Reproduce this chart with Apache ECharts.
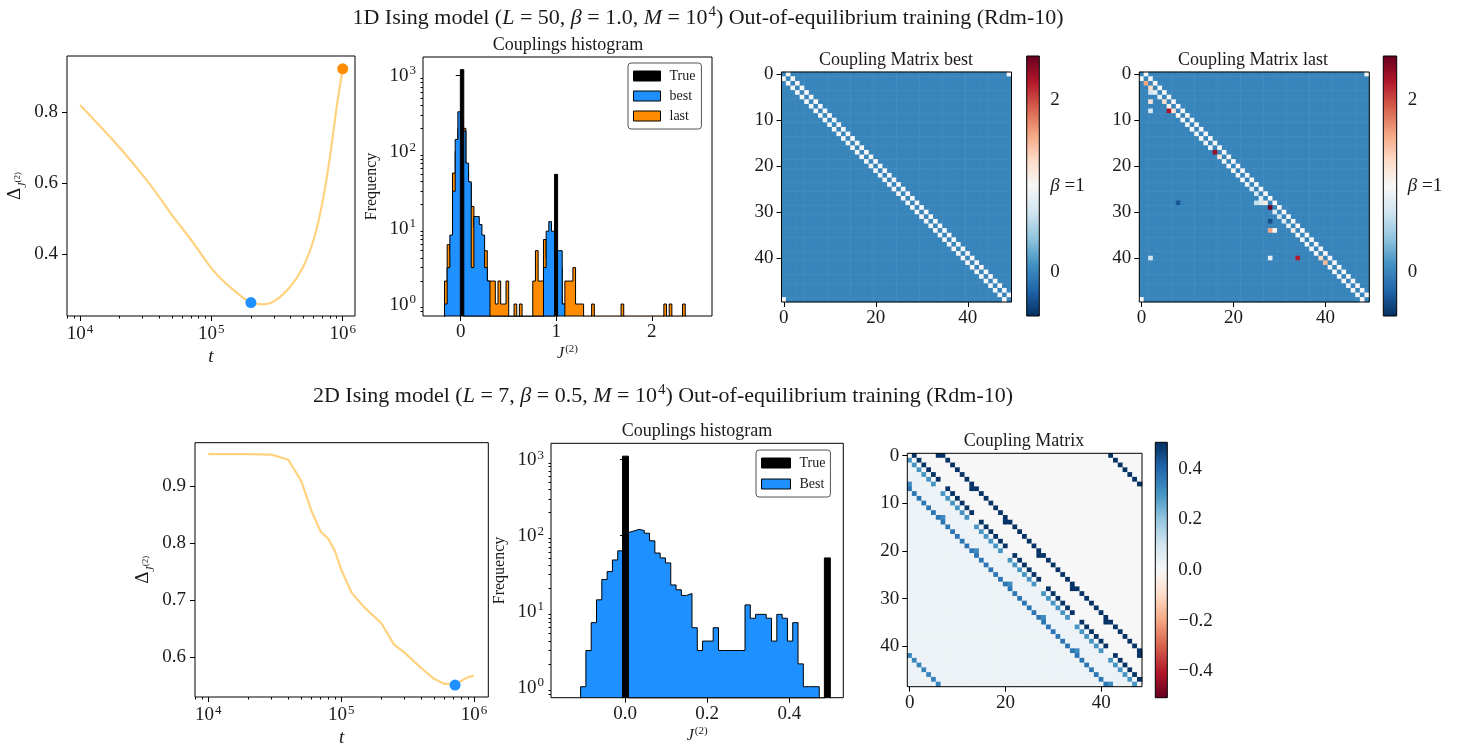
<!DOCTYPE html>
<html>
<head>
<meta charset="utf-8">
<title>Ising model out-of-equilibrium training</title>
<script src="https://cdn.jsdelivr.net/npm/echarts@6/dist/echarts.min.js"></script>
<style>
  html, body { margin: 0; padding: 0; background: #fff; }
  #chart { width: 1470px; height: 748px; }
</style>
</head>
<body>
<div id="chart"></div>
<script>
// ---------- data ----------

// 1D: reconstruction error vs training time
const t1D = [1e4, 1.5e4, 2e4, 3e4, 4e4, 5e4, 7e4, 1e5, 1.2e5, 1.5e5, 2e5, 2.5e5, 3e5, 4e5, 5e5, 6e5, 7e5, 8e5, 9e5, 1e6];
const delta1D = [0.820, 0.751, 0.700, 0.622, 0.561, 0.510, 0.440, 0.360, 0.328, 0.296, 0.263, 0.258, 0.266, 0.308, 0.364, 0.440, 0.544, 0.674, 0.815, 0.922];
const best1DPoint = [2e5, 0.263];
const last1DPoint = [1e6, 0.922];

// 2D: reconstruction error vs training time
const t2D = [1e4, 2e4, 3e4, 4e4, 5e4, 6e4, 7e4, 8e4, 9e4, 1e5, 1.2e5, 1.5e5, 2e5, 2.5e5, 3e5, 4e5, 5e5, 6e5, 7e5, 8e5, 9e5, 1e6];
const delta2D = [0.957, 0.957, 0.956, 0.947, 0.910, 0.856, 0.821, 0.808, 0.786, 0.754, 0.713, 0.687, 0.660, 0.622, 0.608, 0.581, 0.562, 0.553, 0.553, 0.558, 0.565, 0.567];
const best2DPoint = [7.2e5, 0.551];

// 1D couplings histogram (bins of equal width)
const binStart1D = -0.17;
const binWidth1D = 0.028;
const histBest1D = [1, 3, 8, 30, 143, 330, 260, 185, 70, 40, 3, 14, 14, 11, 8, 3, 2,
  0, 0, 0, 0, 0, 0, 0, 0, 0, 0, 0, 0, 0, 0, 0, 0, 0, 0, 0, 0,
  3, 9, 12, 9, 9, 5, 5, 1];
const histLast1D = [2, 6, 5, 52, 100, 200, 150, 200, 55, 38,
  19, 10, 8, 6, 5, 5, 2, 2, 2, 1,
  2, 1, 1, 2, 0, 0, 1, 0, 1, 0,
  0, 0, 0, 2, 5, 2, 2, 7, 4, 6,
  5, 4, 3, 3, 1, 2, 2, 2, 3, 1,
  1, 1, 0, 0, 0, 1, 0, 0, 0, 0,
  0, 0, 0, 0, 0, 0, 1, 0, 0, 0,
  0, 0, 0, 0, 0, 0, 0, 0, 0, 0,
  0, 0, 1, 0, 1, 0, 0, 0, 0, 1];
const trueEdges1D = [-0.004, 0.032, 0.982, 1.014];
const trueCounts1D = [1175, 0, 50];

// 2D couplings histogram
const binStart2D = -0.108;
const binWidth2D = 0.0129;
const histBest2D = [1, 3, 7, 14, 26, 33, 47, 62, 108, 113, 119, 115, 106, 84, 58, 50, 43,
  22, 19, 16, 17, 6, 3, 4, 4, 6, 3, 3, 3, 3, 3, 12, 8, 9, 9, 8, 4, 9, 8, 4, 7, 2, 1, 1, 1];
const trueEdges2D = [-0.006, 0.0085, 0.485, 0.4995];
const trueCounts2D = [1100, 0, 50];

// 1D coupling matrices: upper triangle = true couplings, lower = inferred
const L1D = 50;
const beta1D = 1.0;
const lowerBg1D = 0.0;
const bestSub1D = [0.97, 0.97, 0.97, 0.97, 0.97, 0.97, 0.97, 0.97, 0.97, 0.97,
  0.97, 0.97, 0.97, 0.97, 0.97, 0.97, 0.97, 0.97, 0.97, 0.97,
  0.97, 0.97, 0.97, 0.97, 0.97, 0.97, 0.97, 0.97, 0.97, 0.97,
  0.97, 0.97, 0.97, 0.97, 0.97, 0.97, 0.97, 0.97, 0.97, 0.97,
  0.97, 0.97, 0.97, 0.97, 0.97, 0.97, 0.97, 0.97, 0.97];
const bestExtra1D = [[49, 0, 1.0]];
const lastSub1D = [1.0, 1.6, 1.3, 0.85, 0.9, 1.25, 1.05, 1.2, 1.0, 1.0,
  0.95, 1.0, 0.95, 1.0, 0.95, 0.95, 2.3, 1.2, 0.95, 1.0,
  1.0, 0.95, 1.0, 0.95, 0.8, 0.75, 0.85, 1.1, 2.6, 0.8,
  0.75, 0.8, 0.9, 1.1, 1.0, 0.95, 1.0, 0.95, 1.0, 1.3,
  1.5, 0.95, 1.0, 0.95, 1.0, 0.95, 1.0, 0.95, 1.0];
const lastExtra1D = [[4, 2, 0.7], [6, 2, 1.2], [8, 2, 0.75], [8, 6, 2.25], [28, 8, -0.3],
  [28, 25, 0.65], [28, 26, 0.75], [32, 28, -0.35], [34, 28, 1.6], [34, 29, 1.0],
  [40, 2, 0.7], [40, 28, 0.85], [40, 34, 2.2], [49, 0, 1.0]];
const cbarMin1D = -0.51, cbarMax1D = 2.51;

// 2D (7x7 periodic lattice) coupling matrix
const N2D = 49;
const beta2D = 0.5;
const lowerBg2D = 0.03;
const hStart = [0, 1, 2, 3, 4, 5, 7, 8, 9, 10, 11, 12, 14, 15, 16, 17, 18, 19, 21, 22, 23, 24, 25, 26,
  28, 29, 30, 31, 32, 33, 35, 36, 37, 38, 39, 40, 42, 43, 44, 45, 46, 47];
const hwStart = [0, 7, 14, 21, 28, 35, 42];
const vStart = [0, 1, 2, 3, 4, 5, 6, 7, 8, 9, 10, 11, 12, 13, 14, 15, 16, 17, 18, 19, 20,
  21, 22, 23, 24, 25, 26, 27, 28, 29, 30, 31, 32, 33, 34, 35, 36, 37, 38, 39, 40, 41];
const vwStart = [0, 1, 2, 3, 4, 5, 6];
const infH = 0.30, infHW = 0.32, infV = 0.37, infVW = 0.34;
const cbarMin2D = -0.505, cbarMax2D = 0.505;

// axis ticks
const logMajor = [1e4, 1e5, 1e6];
const logMinor = [8e3, 9e3, 2e4, 3e4, 4e4, 5e4, 6e4, 7e4, 8e4, 9e4, 2e5, 3e5, 4e5, 5e5, 6e5, 7e5, 8e5, 9e5];
const countMajor = [1, 10, 100, 1000];
const countMinor = [0.8, 0.9, 2, 3, 4, 5, 6, 7, 8, 9, 20, 30, 40, 50, 60, 70, 80, 90, 200, 300, 400, 500, 600, 700, 800, 900];

// ---------- styling ----------
const FONT = "'Liberation Serif', 'DejaVu Serif', serif";
const INK = '#1a1a1a';
const LINE_COL = '#ffd27f';
const BLUE = '#1e90ff';
const ORANGE = '#ff8c00';
const RdBu = ['#67001f', '#b2182b', '#d6604d', '#f4a582', '#fddbc7', '#f7f7f7', '#d1e5f0', '#92c5de', '#4393c3', '#2166ac', '#053061'];
const RdBu_r = RdBu.slice().reverse();
const FLOOR = 1e-3;
const TICK_FS = 19;

function makeRich(size) {
  return {
    n: { fontFamily: FONT, fontSize: size, color: INK, verticalAlign: 'bottom' },
    i: { fontFamily: FONT, fontSize: size, color: INK, fontStyle: 'italic', verticalAlign: 'bottom' },
    sup: { fontFamily: FONT, fontSize: Math.round(size * 0.7), color: INK, verticalAlign: 'bottom', padding: [0, 0, Math.round(size * 0.42), 1] },
    d: { fontFamily: FONT, fontSize: size, color: INK, verticalAlign: 'bottom', padding: [0, 0, 4, 0] },
    sub: { fontFamily: FONT, fontSize: 12, color: INK, fontStyle: 'italic', verticalAlign: 'bottom' },
    ss: { fontFamily: FONT, fontSize: 9, color: INK, verticalAlign: 'bottom', padding: [0, 0, 7, 0] }
  };
}
const RICH_TICK = makeRich(TICK_FS);

const grids = [];
const xAxes = [];
const yAxes = [];
const series = [];
const visualMaps = [];

function addGrid(left, top, width, height) {
  grids.push({ left, top, width, height, show: true, borderColor: '#000', borderWidth: 1, backgroundColor: 'transparent', z: 10 });
  return grids.length - 1;
}
function addX(o) { xAxes.push(o); return xAxes.length - 1; }
function addY(o) { yAxes.push(o); return yAxes.length - 1; }

function ticks(len, values) {
  const t = { show: true, inside: false, length: len, lineStyle: { color: '#000', width: 1 } };
  if (values) t.customValues = values;
  return t;
}
function labels(values, formatter, margin) {
  return { show: true, customValues: values, formatter, margin, color: INK, fontFamily: FONT, fontSize: TICK_FS, rich: RICH_TICK };
}
const powLabel = v => '{n|10}{sup|' + Math.round(Math.log10(v)) + '}';
const noLine = { show: false };
const noSplit = { show: false };

function edgesFrom(start, width, n) {
  const e = [];
  for (let k = 0; k <= n; k++) e.push(+(start + k * width).toFixed(5));
  return e;
}
function stepData(edges, counts) {
  const out = [[edges[0], FLOOR]];
  counts.forEach((c, k) => out.push([edges[k], c > 0 ? c : FLOOR]));
  out.push([edges[counts.length], FLOOR]);
  return out;
}

// ---------- panel builders ----------
function linePanel(g, xMin, xMax, yMin, yMax, yTicks, yNameGap) {
  const xi = addX({
    type: 'log', gridIndex: g, min: xMin, max: xMax, axisLine: noLine, splitLine: noSplit,
    axisTick: ticks(5, logMajor), axisLabel: labels(logMajor, powLabel, 7),
    name: '{i|t}', nameLocation: 'middle', nameGap: 31, nameTextStyle: { rich: makeRich(19) }
  });
  addX({
    type: 'log', gridIndex: g, min: xMin, max: xMax, position: 'bottom', axisLine: noLine, splitLine: noSplit,
    axisLabel: { show: false }, axisTick: ticks(2.5, logMinor)
  });
  const yi = addY({
    type: 'value', gridIndex: g, min: yMin, max: yMax, axisLine: noLine, splitLine: noSplit,
    axisTick: ticks(5, yTicks), axisLabel: labels(yTicks, v => '{n|' + v.toFixed(1) + '}', 9),
    name: '{d|Δ}{sub|J}{ss|(2)}', nameLocation: 'middle', nameGap: yNameGap, nameRotate: 90,
    nameTextStyle: { rich: makeRich(19) }
  });
  return [xi, yi];
}

function histPanel(g, xMin, xMax, xTicks, xFmt, yMin, yMax) {
  const xi = addX({
    type: 'value', gridIndex: g, min: xMin, max: xMax, axisLine: noLine, splitLine: noSplit,
    axisTick: ticks(5, xTicks), axisLabel: labels(xTicks, v => '{n|' + xFmt(v) + '}', 7),
    name: '{i|J}{sup|(2)}', nameLocation: 'middle', nameGap: 28, nameTextStyle: { rich: makeRich(16) }
  });
  const yi = addY({
    type: 'log', gridIndex: g, min: yMin, max: yMax, axisLine: noLine, splitLine: noSplit,
    axisTick: ticks(5, countMajor), axisLabel: labels(countMajor, powLabel, 7),
    name: 'Frequency', nameLocation: 'middle', nameGap: 43,
    nameTextStyle: { fontFamily: FONT, fontSize: 16, color: INK }
  });
  addY({
    type: 'log', gridIndex: g, min: yMin, max: yMax, position: 'left', axisLine: noLine, splitLine: noSplit,
    axisLabel: { show: false }, axisTick: ticks(2.5, countMinor)
  });
  return [xi, yi];
}

function histSeries(xi, yi, name, edges, counts, fill, z) {
  series.push({
    type: 'line', name, xAxisIndex: xi, yAxisIndex: yi, data: stepData(edges, counts),
    step: 'end', symbol: 'none', showSymbol: false, color: fill, z,
    lineStyle: { color: '#000', width: 1 }, areaStyle: { color: fill, opacity: 1, origin: 'start' },
    clip: true, silent: true
  });
}

function matrixPanel(g, n, matrix, vmin, vmax, colors) {
  const cats = [];
  for (let k = 0; k < n; k++) cats.push(String(k));
  const every = step => (idx => idx % step === 0);
  const xi = addX({
    type: 'category', gridIndex: g, data: cats, axisLine: noLine, splitLine: noSplit,
    axisTick: Object.assign(ticks(5), { alignWithLabel: true, interval: every(20) }),
    axisLabel: { interval: every(20), margin: 7, color: INK, fontFamily: FONT, fontSize: TICK_FS }
  });
  const yi = addY({
    type: 'category', gridIndex: g, data: cats, inverse: true, axisLine: noLine, splitLine: noSplit,
    axisTick: Object.assign(ticks(5), { alignWithLabel: true, interval: every(10) }),
    axisLabel: { interval: every(10), margin: 8, color: INK, fontFamily: FONT, fontSize: TICK_FS }
  });
  const data = [];
  matrix.forEach((row, r) => row.forEach((v, c) => data.push([c, r, Math.min(vmax, Math.max(vmin, v))])));
  series.push({
    type: 'heatmap', xAxisIndex: xi, yAxisIndex: yi, data, progressive: 0,
    itemStyle: { borderWidth: 0 }, emphasis: { disabled: true }, silent: true
  });
  visualMaps.push({
    type: 'continuous', show: false, seriesIndex: series.length - 1, dimension: 2,
    min: vmin, max: vmax, inRange: { color: colors }
  });
}

function colorbar(g, vmin, vmax, colors, tickValues, fmt) {
  const xi = addX({ type: 'value', gridIndex: g, min: 0, max: 1, show: false });
  const yi = addY({
    type: 'value', gridIndex: g, min: vmin, max: vmax, position: 'right', axisLine: noLine, splitLine: noSplit,
    axisTick: ticks(5, tickValues), axisLabel: labels(tickValues, fmt, 11)
  });
  const stops = colors.map((c, k) => ({ offset: k / (colors.length - 1), color: c }));
  series.push({
    type: 'custom', xAxisIndex: xi, yAxisIndex: yi, data: [[0, vmin, 1, vmax]],
    encode: { x: [0, 2], y: [1, 3] }, silent: true,
    renderItem: (params, api) => {
      const a = api.coord([api.value(0), api.value(1)]);
      const b = api.coord([api.value(2), api.value(3)]);
      return {
        type: 'rect',
        shape: { x: a[0], y: b[1], width: b[0] - a[0], height: a[1] - b[1] },
        style: { fill: new echarts.graphic.LinearGradient(0, 1, 0, 0, stops) }
      };
    }
  });
}

function emptyMatrix(n, upper, lower) {
  const m = [];
  for (let r = 0; r < n; r++) {
    const row = [];
    for (let c = 0; c < n; c++) row.push(c > r ? upper : (c < r ? lower : 0));
    m.push(row);
  }
  return m;
}
function matrix1D(sub, extras) {
  const m = emptyMatrix(L1D, 0, lowerBg1D);
  sub.forEach((v, i) => { m[i][i + 1] = beta1D; m[i + 1][i] = v; });
  m[0][L1D - 1] = beta1D;
  extras.forEach(([r, c, v]) => { m[r][c] = v; });
  return m;
}
function matrix2D() {
  const m = emptyMatrix(N2D, 0, lowerBg2D);
  [[hStart, 1, infH], [hwStart, 6, infHW], [vStart, 7, infV], [vwStart, 42, infVW]].forEach(([starts, off, inf]) => {
    starts.forEach(i => { m[i][i + off] = beta2D; m[i + off][i] = inf; });
  });
  return m;
}

// ---------- top row: 1D Ising ----------
const gL1 = addGrid(67, 56, 288, 260);
const [xL1, yL1] = linePanel(gL1, 7960, 1.24e6, 0.225, 0.958, [0.4, 0.6, 0.8], 38);
series.push({
  type: 'line', name: 'delta1D', xAxisIndex: xL1, yAxisIndex: yL1, data: t1D.map((t, k) => [t, delta1D[k]]),
  smooth: 0.35, symbol: 'none', lineStyle: { color: LINE_COL, width: 2.2 }, z: 2, silent: true
});
series.push({ type: 'scatter', name: 'best1D', xAxisIndex: xL1, yAxisIndex: yL1, data: [best1DPoint], symbolSize: 11, itemStyle: { color: BLUE, opacity: 1 }, z: 5 });
series.push({ type: 'scatter', name: 'last1D', xAxisIndex: xL1, yAxisIndex: yL1, data: [last1DPoint], symbolSize: 11, itemStyle: { color: ORANGE, opacity: 1 }, z: 5 });

const gH1 = addGrid(423, 57, 289, 259);
const [xH1, yH1] = histPanel(gH1, -0.395, 2.63, [0, 1, 2], v => String(v), 0.697, 1722);
histSeries(xH1, yH1, 'last', edgesFrom(binStart1D, binWidth1D, histLast1D.length), histLast1D, ORANGE, 2);
histSeries(xH1, yH1, 'best', edgesFrom(binStart1D, binWidth1D, histBest1D.length), histBest1D, BLUE, 3);
histSeries(xH1, yH1, 'True', trueEdges1D, trueCounts1D, '#000', 4);

const betaFmt = v => (Math.abs(v - 1) < 1e-9 ? '{i|β} {n|=1}' : '{n|' + v + '}');
const gM1 = addGrid(781.5, 72, 230, 230);
matrixPanel(gM1, L1D, matrix1D(bestSub1D, bestExtra1D), cbarMin1D, cbarMax1D, RdBu_r);
const gC1 = addGrid(1026.7, 56, 12.6, 260);
colorbar(gC1, cbarMin1D, cbarMax1D, RdBu_r, [0, 1, 2], betaFmt);

const gM2 = addGrid(1139.3, 72, 230, 230);
matrixPanel(gM2, L1D, matrix1D(lastSub1D, lastExtra1D), cbarMin1D, cbarMax1D, RdBu_r);
const gC2 = addGrid(1383.3, 56, 13.4, 260);
colorbar(gC2, cbarMin1D, cbarMax1D, RdBu_r, [0, 1, 2], betaFmt);

// ---------- bottom row: 2D Ising ----------
const gL2 = addGrid(195, 442.7, 293.3, 254.6);
const [xL2, yL2] = linePanel(gL2, 7943, 1.28e6, 0.530, 0.977, [0.6, 0.7, 0.8, 0.9], 38);
series.push({
  type: 'line', name: 'delta2D', xAxisIndex: xL2, yAxisIndex: yL2, data: t2D.map((t, k) => [t, delta2D[k]]),
  symbol: 'none', lineStyle: { color: LINE_COL, width: 2.2 }, z: 2, silent: true
});
series.push({ type: 'scatter', name: 'best2D', xAxisIndex: xL2, yAxisIndex: yL2, data: [best2DPoint], symbolSize: 11, itemStyle: { color: BLUE, opacity: 1 }, z: 5 });

const gH2 = addGrid(551, 443.3, 292.3, 254.4);
const [xH2, yH2] = histPanel(gH2, -0.18, 0.531, [0, 0.2, 0.4], v => v.toFixed(1), 0.716, 1626);
histSeries(xH2, yH2, 'Best', edgesFrom(binStart2D, binWidth2D, histBest2D.length), histBest2D, BLUE, 3);
histSeries(xH2, yH2, 'True', trueEdges2D, trueCounts2D, '#000', 4);

const gM3 = addGrid(907.3, 453.3, 234.7, 233.4);
matrixPanel(gM3, N2D, matrix2D(), cbarMin2D, cbarMax2D, RdBu);
const gC3 = addGrid(1155.3, 442.3, 12, 255.4);
colorbar(gC3, cbarMin2D, cbarMax2D, RdBu, [-0.4, -0.2, 0, 0.2, 0.4],
  v => '{n|' + (v < -1e-9 ? '\u2212' : '') + Math.abs(v).toFixed(1) + '}');

// ---------- titles & legends ----------
function title(x, y, text, size) {
  return {
    type: 'text', x, y, silent: true, z: 20,
    style: { text, fill: INK, fontFamily: FONT, fontSize: size, align: 'center', verticalAlign: 'middle', rich: makeRich(size) }
  };
}
const legendBase = {
  orient: 'vertical', icon: 'rect', selectedMode: false, backgroundColor: '#fff',
  borderColor: '#555', borderWidth: 1, borderRadius: 3,
  textStyle: { fontFamily: FONT, fontSize: 14, color: INK, lineHeight: 14, padding: [0, 0, 0, 4] }
};

const option = {
  animation: false,
  backgroundColor: '#fff',
  textStyle: { fontFamily: FONT },
  grid: grids,
  xAxis: xAxes,
  yAxis: yAxes,
  visualMap: visualMaps,
  series,
  legend: [
    Object.assign({}, legendBase, {
      left: 628, top: 63, itemWidth: 27, itemHeight: 10, itemGap: 6, padding: [6, 6, 6, 5],
      data: [
        { name: 'True', itemStyle: { color: '#000', borderColor: '#000', borderWidth: 1 } },
        { name: 'best', itemStyle: { color: BLUE, borderColor: '#000', borderWidth: 1 } },
        { name: 'last', itemStyle: { color: ORANGE, borderColor: '#000', borderWidth: 1 } }
      ]
    }),
    Object.assign({}, legendBase, {
      left: 756, top: 450, itemWidth: 29, itemHeight: 10, itemGap: 7, padding: [6, 5, 6, 5],
      data: [
        { name: 'True', itemStyle: { color: '#000', borderColor: '#000', borderWidth: 1 } },
        { name: 'Best', itemStyle: { color: BLUE, borderColor: '#000', borderWidth: 1 } }
      ]
    })
  ],
  graphic: [
    title(708, 17, '{n|1D Ising model (}{i|L}{n| = 50, }{i|β}{n| = 1.0, }{i|M}{n| = 10}{sup|4}{n|) Out-of-equilibrium training (Rdm-10)}', 22),
    title(663, 395, '{n|2D Ising model (}{i|L}{n| = 7, }{i|β}{n| = 0.5, }{i|M}{n| = 10}{sup|4}{n|) Out-of-equilibrium training (Rdm-10)}', 22),
    title(568, 45, 'Couplings histogram', 18),
    title(896, 60, 'Coupling Matrix best', 18),
    title(1253, 60, 'Coupling Matrix last', 18),
    title(697, 431, 'Couplings histogram', 18),
    title(1024, 441, 'Coupling Matrix', 18)
  ]
};

const chart = echarts.init(document.getElementById('chart'));
chart.setOption(option);
window.addEventListener('resize', () => chart.resize());
</script>
</body>
</html>
